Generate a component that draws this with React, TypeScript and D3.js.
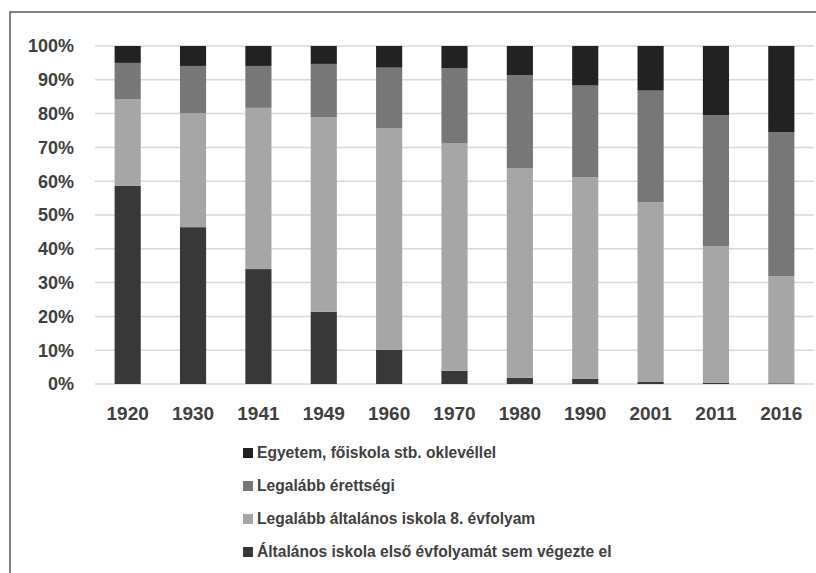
import * as d3 from 'd3';
import React, { useRef, useEffect } from 'react';

const years = ['1920', '1930', '1941', '1949', '1960', '1970', '1980', '1990', '2001', '2011', '2016'];

// share of population by highest education, in percent
const noSchool = [58.6, 46.4, 34.0, 21.4, 10.1, 3.9, 1.8, 1.6, 0.6, 0.4, 0.2];
const grade8 = [25.7, 33.7, 47.7, 57.6, 65.6, 67.4, 62.1, 59.6, 53.2, 40.3, 31.7];
const matura = [10.7, 14.0, 12.4, 15.7, 17.9, 22.1, 27.5, 27.1, 33.0, 38.8, 42.6];
const degree = [5.0, 5.9, 5.9, 5.3, 6.4, 6.6, 8.6, 11.7, 13.2, 20.5, 25.5];

const seriesKeys = ['noSchool', 'grade8', 'matura', 'degree'];
const seriesLabels: any = {
    degree: 'Egyetem, főiskola stb. oklevéllel',
    matura: 'Legalább érettségi',
    grade8: 'Legalább általános iskola 8. évfolyam',
    noSchool: 'Általános iskola első évfolyamát sem végezte el',
};
const seriesColors: any = {
    noSchool: '#383838',
    grade8: '#a6a6a6',
    matura: '#777777',
    degree: '#222222',
};
const legendOrder = ['degree', 'matura', 'grade8', 'noSchool'];
const yTicks = [0, 10, 20, 30, 40, 50, 60, 70, 80, 90, 100];

const FONT = '"Liberation Sans", Arial, sans-serif';
const TEXT = '#404040';

const App = () => {
    const svgRef = useRef<SVGSVGElement>(null);

    useEffect(() => {
        const svg = d3.select(svgRef.current);
        svg.selectAll('*').remove();

        const plot = { left: 95, right: 814, top: 46, bottom: 384 };

        const table = years.map((y, i) => ({
            year: y,
            noSchool: noSchool[i],
            grade8: grade8[i],
            matura: matura[i],
            degree: degree[i],
        }));

        const x = d3.scaleBand()
            .domain(years)
            .range([plot.left, plot.right])
            .paddingInner(0.6)
            .paddingOuter(0.3);

        const y = d3.scaleLinear().domain([0, 100]).range([plot.bottom, plot.top]);

        // frame (only left and top edges are visible)
        svg.append('path')
            .attr('d', `M10,573 L10,12 L816,12`)
            .attr('fill', 'none')
            .attr('stroke', '#595959')
            .attr('stroke-width', 1.5);

        // gridlines
        svg.append('g')
            .selectAll('line')
            .data(yTicks)
            .join('line')
            .attr('x1', plot.left)
            .attr('x2', plot.right)
            .attr('y1', (d: any) => y(d))
            .attr('y2', (d: any) => y(d))
            .attr('stroke', '#d9d9d9')
            .attr('stroke-width', 1.5);

        // y labels
        svg.append('g')
            .selectAll('text')
            .data(yTicks)
            .join('text')
            .attr('x', 74)
            .attr('y', (d: any) => y(d))
            .attr('dy', '0.35em')
            .attr('text-anchor', 'end')
            .attr('font-family', FONT)
            .attr('font-weight', 'bold')
            .attr('font-size', 18)
            .attr('fill', TEXT)
            .text((d: any) => `${d}%`);

        const stacked = d3.stack().keys(seriesKeys)(table as any);

        svg.append('g')
            .selectAll('g')
            .data(stacked)
            .join('g')
            .attr('fill', (s: any) => seriesColors[s.key])
            .selectAll('rect')
            .data((s: any) => s)
            .join('rect')
            .attr('x', (d: any) => x(d.data.year) as number)
            .attr('width', x.bandwidth())
            .attr('y', (d: any) => y(Math.min(d[1], 100)))
            .attr('height', (d: any) => y(d[0]) - y(Math.min(d[1], 100)));

        // x labels
        svg.append('g')
            .selectAll('text')
            .data(years)
            .join('text')
            .attr('x', (d: any) => (x(d) as number) + x.bandwidth() / 2)
            .attr('y', 420)
            .attr('text-anchor', 'middle')
            .attr('font-family', FONT)
            .attr('font-weight', 'bold')
            .attr('font-size', 19)
            .attr('fill', TEXT)
            .text((d: any) => d);

        // legend
        const legend = svg.append('g')
            .selectAll('g')
            .data(legendOrder)
            .join('g')
            .attr('transform', (d: any, i: number) => `translate(243, ${453 + i * 33})`);

        legend.append('rect')
            .attr('x', 0)
            .attr('y', -5)
            .attr('width', 10)
            .attr('height', 10)
            .attr('fill', (d: any) => seriesColors[d]);

        legend.append('text')
            .attr('x', 14)
            .attr('y', 0)
            .attr('dy', '0.35em')
            .attr('font-family', FONT)
            .attr('font-weight', 'bold')
            .attr('font-size', 15.6)
            .attr('fill', TEXT)
            .text((d: any) => seriesLabels[d]);
    }, []);

    return (
        <svg
            ref={svgRef}
            width={816}
            height={573}
            style={{ position: 'absolute', left: 0, top: 0, background: '#fff' }}
        />
    );
};

export default App;
